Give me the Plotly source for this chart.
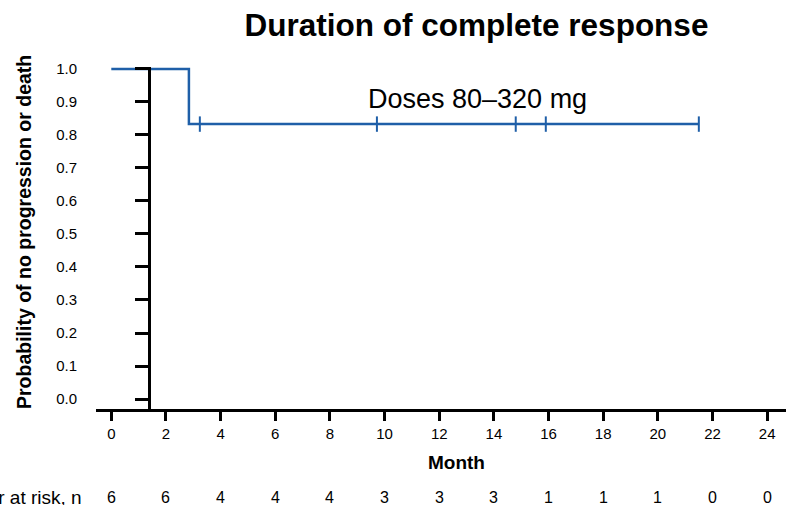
import plotly.graph_objects as go

# Kaplan-Meier data
km_time = [0, 2.84, 21.5]
km_surv = [1.0, 0.833, 0.833]
censor_time = [3.24, 9.72, 14.8, 15.9, 21.5]
censor_surv = [0.833, 0.833, 0.833, 0.833, 0.833]

x_ticks = [0, 2, 4, 6, 8, 10, 12, 14, 16, 18, 20, 22, 24]
at_risk = [6, 6, 4, 4, 4, 3, 3, 3, 1, 1, 1, 0, 0]
y_ticks = [0.0, 0.1, 0.2, 0.3, 0.4, 0.5, 0.6, 0.7, 0.8, 0.9, 1.0]

BLUE = "#1f5fa8"
FONT = "Liberation Sans, Arial, sans-serif"
W, H = 786, 505
ML, MR, MT, MB = 96, 0, 67, 96
PW, PH = W - ML - MR, H - MT - MB

fig = go.Figure()
fig.add_trace(go.Scatter(
    x=km_time, y=km_surv, mode="lines", line=dict(color=BLUE, width=2.5, shape="hv"),
    showlegend=False, hoverinfo="skip"))
fig.add_trace(go.Scatter(
    x=censor_time, y=censor_surv, mode="markers",
    marker=dict(symbol="line-ns", size=11, line=dict(color=BLUE, width=2)),
    showlegend=False, hoverinfo="skip", cliponaxis=False))

xr = [-0.56, 24.69]
yr = [-0.0303, 1.006]

def px_to_paper_x(px):
    return (px - ML) / PW

def px_to_paper_y(py):
    return (H - MB - py) / PH

annotations = []
for t, n in zip(x_ticks, at_risk):
    annotations.append(dict(x=t, y=px_to_paper_y(497), xref="x", yref="paper",
                            text=str(n), showarrow=False, xanchor="center", yanchor="middle",
                            font=dict(family=FONT, size=16, color="black")))
annotations.append(dict(x=px_to_paper_x(84), y=px_to_paper_y(497), xref="paper", yref="paper",
                        text="Number at risk, n", showarrow=False, xanchor="right", yanchor="middle",
                        font=dict(family=FONT, size=19, color="black")))
annotations.append(dict(x=px_to_paper_x(456), y=px_to_paper_y(462), xref="paper", yref="paper",
                        text="<b>Month</b>", showarrow=False, xanchor="center", yanchor="middle",
                        font=dict(family=FONT, size=19, color="black")))
annotations.append(dict(x=px_to_paper_x(24), y=px_to_paper_y(232), xref="paper", yref="paper",
                        text="<b>Probability of no progression or death</b>", textangle=-90,
                        showarrow=False, xanchor="center", yanchor="middle",
                        font=dict(family=FONT, size=19.5, color="black")))
annotations.append(dict(x=px_to_paper_x(477.5), y=px_to_paper_y(99), xref="paper", yref="paper",
                        text="Doses 80\u2013320 mg", showarrow=False, xanchor="center", yanchor="middle",
                        font=dict(family=FONT, size=27, color="black")))

fig.update_layout(
    width=W, height=H,
    margin=dict(l=ML, r=MR, t=MT, b=MB),
    paper_bgcolor="white", plot_bgcolor="white",
    title=dict(text="<b>Duration of complete response</b>", x=476.5 / W, xref="container",
               y=1 - 25 / H, yref="container", xanchor="center", yanchor="middle",
               font=dict(family=FONT, size=31.5, color="black")),
    xaxis=dict(range=xr, tickvals=x_ticks, showline=True, linecolor="black", linewidth=2.5,
               ticks="outside", ticklen=9, tickwidth=2.5, tickcolor="black",
               showgrid=False, zeroline=False,
               tickfont=dict(family=FONT, size=15, color="black")),
    yaxis=dict(range=yr, tickvals=y_ticks, tickformat=".1f", anchor="free",
               position=px_to_paper_x(149), showline=True, linecolor="black", linewidth=3,
               ticks="outside", ticklen=13, tickwidth=2.5, tickcolor="black",
               ticklabelstandoff=55,
               showgrid=False, zeroline=False,
               tickfont=dict(family=FONT, size=15, color="black")),
    annotations=annotations,
)

fig.write_html("out.html", config={"displayModeBar": False},
               post_script="document.body.style.margin='0';")
